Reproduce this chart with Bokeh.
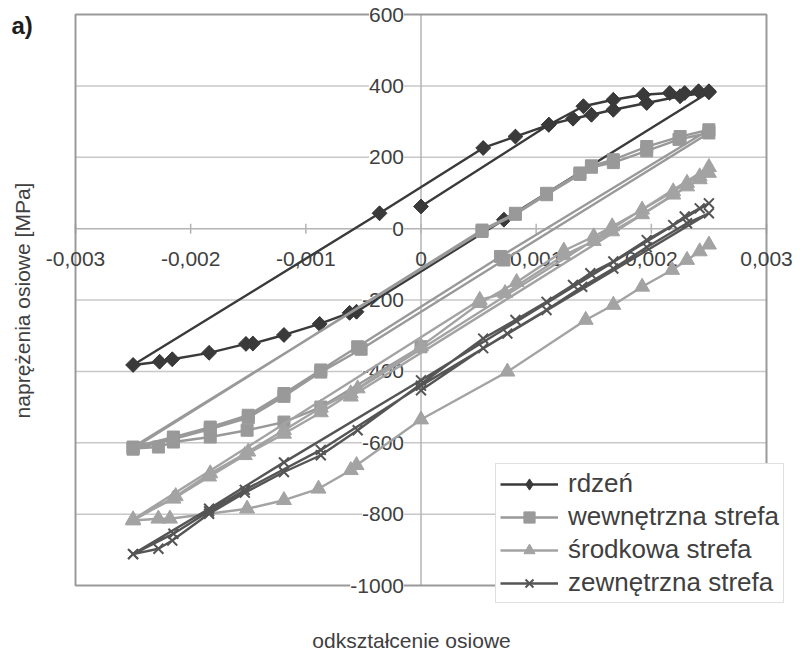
import math
from bokeh.plotting import figure
from bokeh.models import Range1d, Legend, LegendItem, ColumnDataSource
from bokeh.embed import file_html
from bokeh.resources import INLINE
from bokeh.core.properties import value

# ---------------- data ----------------
x_ticks = [-0.003, -0.002, -0.001, 0.0, 0.001, 0.002, 0.003]
x_tick_labels = ["-0,003", "-0,002", "-0,001", "0", "0,001", "0,002", "0,003"]
y_ticks = [-1000, -800, -600, -400, -200, 0, 200, 400, 600]
y_tick_labels = ["-1000", "-800", "-600", "-400", "-200", "0", "200", "400", "600"]
grid_y = [-800, -600, -400, -200, 200, 400]

series_names = ["rdzeń", "wewnętrzna strefa", "środkowa strefa", "zewnętrzna strefa"]
x_title = "odkształcenie osiowe"
y_title = "naprężenia osiowe [MPa]"
panel_tag = "a)"

rdzen_strain = [0.0, 0.00111, 0.00132, 0.00148, 0.00167, 0.00196, 0.00225, 0.0025,
                0.00072, -0.00056, -0.00062, -0.00088, -0.00119, -0.00146, -0.00152,
                -0.00184, -0.00216, -0.00227, -0.0025,
                -0.00036, 0.00054, 0.00082, 0.00111, 0.00141, 0.00167, 0.00193,
                0.00216, 0.00229, 0.00241, 0.0025]
rdzen_stress = [62, 291, 308, 319, 333, 352, 371, 382,
                25, -233, -236, -267, -298, -322, -323,
                -348, -366, -373, -382,
                43, 226, 258, 291, 343, 361, 375,
                380, 380, 385, 385]

wewn_strain = [0.0, -0.00087, -0.00119, -0.00151, -0.00183, -0.00215, -0.00228, -0.0025,
               0.00053, 0.00082, 0.00109, 0.00138, 0.00148, 0.00167, 0.00196, 0.00225, 0.0025,
               0.00069, -0.00055, -0.00087, -0.00119, -0.0015, -0.00183, -0.00215, -0.0025,
               0.00053, 0.00082, 0.00109, 0.00138, 0.00148, 0.00167, 0.00196, 0.00224, 0.0025,
               0.00072, -0.00052, -0.00087, -0.00119, -0.0015, -0.00183, -0.00215, -0.0025]
wewn_stress = [-331, -500, -542, -565, -584, -598, -612, -616,
               -4, 43, 99, 156, 176, 193, 230, 258, 277,
               -78, -331, -396, -462, -523, -556, -584, -612,
               -8, 40, 95, 152, 172, 185, 218, 250, 268,
               -88, -338, -402, -470, -530, -562, -590, -618]

srod_strain = [0.0025, 0.00242, 0.00231, 0.00218, 0.00192, 0.00167, 0.00143, 0.00075, 0.0,
               -0.00056, -0.00061, -0.00089, -0.00119, -0.00151, -0.00218, -0.00228, -0.0025,
               -0.00213, -0.00183, -0.0015, -0.00119, -0.00087, -0.00055, 0.0, 0.00051, 0.00083,
               0.00124, 0.0015, 0.00166, 0.00192, 0.00219, 0.00231, 0.00242, 0.0025,
               -0.00061, -0.00087, -0.00119, -0.00153, -0.00184, -0.00215, -0.0025,
               0.00051, 0.00073, 0.00124, 0.0015, 0.00166, 0.00192, 0.00219, 0.00231, 0.00242, 0.0025,
               -0.00061]
srod_stress = [-45, -64, -88, -116, -163, -214, -256, -401, -535,
               -663, -677, -729, -761, -785, -813, -813, -818,
               -750, -686, -625, -565, -502, -448, -330, -209, -150,
               -62, -22, 6, 53, 104, 128, 146, 172,
               -462, -515, -575, -635, -695, -757, -815,
               -200, -181, -75, -35, -8, 40, 95, 118, 138, 156,
               -471]

zewn_strain = [0.0, 0.00054, 0.00075, 0.00109, 0.0014, 0.00167, 0.00196, 0.00231, 0.0025,
               0.0, -0.00087, -0.00153, -0.00184, -0.00215, -0.0025,
               -0.00228, -0.00216, -0.00184, -0.00153, -0.00119, -0.00087, -0.00055,
               0.00054, 0.00082, 0.00109, 0.00132, 0.00147, 0.00167, 0.00196, 0.00219,
               0.00229, 0.00242, 0.0025,
               0.0, -0.00119, -0.00184, -0.0025]
zewn_stress = [-453, -335, -294, -228, -163, -112, -52, 15, 43,
               -440, -620, -732, -792, -855, -912,
               -897, -874, -799, -740, -682, -635, -565,
               -308, -256, -205, -158, -125, -92, -32, 10,
               34, 57, 71,
               -425, -655, -785, -912]

# ---------------- layout ----------------
W, H = 802, 651
FL, FR, FT, FB = 75, 766, 14, 585          # pixel box of the axes area
XMIN, XMAX, YMIN, YMAX = -0.003, 0.003, -1000, 600
sx = (FR - FL) / (XMAX - XMIN)
sy = (FB - FT) / (YMAX - YMIN)
x0 = XMIN - FL / sx
x1 = XMAX + (W - FR) / sx
y0 = YMIN - (H - FB) / sy
y1 = YMAX + FT / sy


def dx(px):
    return x0 + px / sx


def dy(py):
    return y1 - py / sy


p = figure(width=W, height=H, x_range=Range1d(x0, x1), y_range=Range1d(y0, y1),
           x_axis_location=None, y_axis_location=None, toolbar_location=None,
           output_backend="svg", min_border=0, title=None)
p.outline_line_color = None
p.xgrid.visible = False
p.ygrid.visible = False
p.background_fill_color = "white"
p.border_fill_color = "white"

FONT = value("Liberation Sans")
TXT = "#404040"
GRID = "#c8c8c8"

# horizontal grid lines
p.segment(x0=[XMIN] * len(grid_y), x1=[XMAX] * len(grid_y), y0=grid_y, y1=grid_y,
          line_color=GRID, line_width=1.5)
# axes lines through the origin
p.segment(x0=[XMIN], x1=[XMAX], y0=[0], y1=[0], line_color="#b4b4b4", line_width=1.5)
p.segment(x0=[0], x1=[0], y0=[YMIN], y1=[YMAX], line_color="#b4b4b4", line_width=1.5)
# tick marks on the x axis
tick_h = 5 / sy
p.segment(x0=x_ticks, x1=x_ticks, y0=[-tick_h] * len(x_ticks), y1=[tick_h] * len(x_ticks),
          line_color="#b4b4b4", line_width=1.5)
# plot area border
p.quad(left=[XMIN], right=[XMAX], bottom=[YMIN], top=[YMAX], fill_color=None,
       line_color="#9a9a9a", line_width=2)

# tick labels
p.text(x=x_ticks, y=[0] * len(x_ticks), text=x_tick_labels, text_font=FONT,
       text_font_size="21px", text_color=TXT, text_align="center",
       text_baseline="middle", y_offset=30)
p.text(x=[0] * len(y_ticks), y=y_ticks, text=y_tick_labels, text_font=FONT,
       text_font_size="21px", text_color=TXT, text_align="right",
       text_baseline="middle", x_offset=-17, background_fill_color="white")

# titles
p.text(x=[dx(411)], y=[dy(640)], text=[x_title], text_font=FONT, text_font_size="21px",
       text_color=TXT, text_align="center", text_baseline="middle")
p.text(x=[dx(22)], y=[dy(300)], text=[y_title], text_font=FONT, text_font_size="21px",
       text_color=TXT, text_align="center", text_baseline="middle", angle=math.pi / 2)
p.text(x=[dx(11)], y=[dy(25)], text=[panel_tag], text_font=FONT, text_font_size="24px",
       text_font_style="bold", text_color="#1e1e1e", text_align="left",
       text_baseline="middle")

# series
styles = [
    dict(xs=rdzen_strain, ys=rdzen_stress, color="#3a3a3a", marker="square", size=10.5,
         angle=math.pi / 4),
    dict(xs=wewn_strain, ys=wewn_stress, color="#999999", marker="square", size=12, angle=0),
    dict(xs=srod_strain, ys=srod_stress, color="#a3a3a3", marker="triangle", size=15, angle=0),
    dict(xs=zewn_strain, ys=zewn_stress, color="#555555", marker="x", size=14, angle=0),
]

items = []
for name, st in zip(series_names, styles):
    src = ColumnDataSource(data=dict(x=st["xs"], y=st["ys"]))
    lr = p.line("x", "y", source=src, line_color=st["color"], line_width=2.4)
    if st["marker"] == "x":
        sr = p.scatter("x", "y", source=src, marker="x", size=st["size"],
                       line_color=st["color"], line_width=2)
        leg = [lr, sr]
    elif st["angle"]:
        # diamond drawn first (hidden under the rotated squares); used for the legend
        lg = p.scatter("x", "y", source=src, marker="diamond", size=14,
                       fill_color=st["color"], line_color=st["color"])
        sr = p.scatter("x", "y", source=src, marker=st["marker"], size=st["size"],
                       angle=st["angle"], fill_color=st["color"], line_color=st["color"])
        leg = [lr, lg]
    else:
        sr = p.scatter("x", "y", source=src, marker=st["marker"], size=st["size"],
                       fill_color=st["color"], line_color=st["color"])
        leg = [lr, sr]
    items.append(LegendItem(label=name, renderers=leg))

legend = Legend(items=items, location=(495, 48), label_text_font="Liberation Sans",
                label_text_font_size="26px", label_text_color=TXT,
                border_line_color="#c0c0c0", border_line_width=1.5,
                background_fill_color="white", background_fill_alpha=1.0,
                glyph_width=58, glyph_height=28, label_standoff=10,
                padding=4, spacing=2, margin=0)
p.add_layout(legend)

open("out.html", "w").write(file_html(p, INLINE))
